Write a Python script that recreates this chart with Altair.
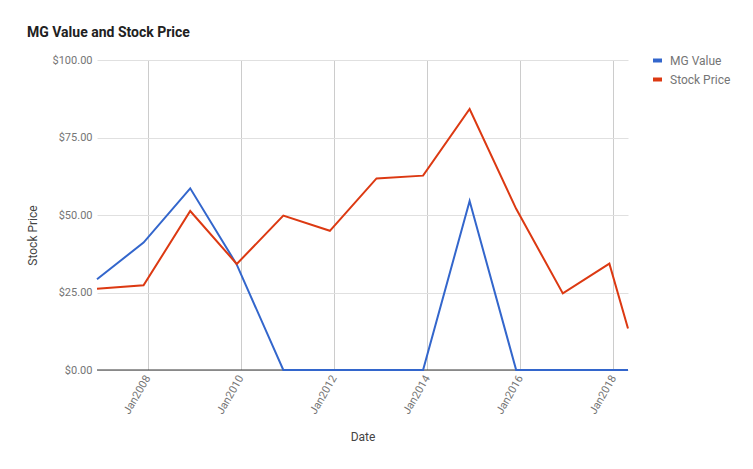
import altair as alt
import pandas as pd

dates = [
    "2006-11-30", "2007-11-30", "2008-11-30", "2009-11-30", "2010-11-30",
    "2011-11-30", "2012-11-30", "2013-11-30", "2014-11-30", "2015-11-30",
    "2016-11-30", "2017-11-30", "2018-04-25",
]
mg_value = [29.3, 41.1, 58.6, 34.0, 0, 0, 0, 0, 54.5, 0, 0, 0, 0]
stock_price = [26.2, 27.3, 51.3, 34.2, 49.8, 44.9, 61.8, 62.7, 84.2, 52.0, 24.7, 34.3, 13.4]
series = ["MG Value", "Stock Price"]
colors = ["#3366cc", "#dc3912"]
y_ticks = [0, 25, 50, 75, 100]
x_tick_years = [2008, 2010, 2012, 2014, 2016, 2018]

rows = []
for d, v in zip(dates, mg_value):
    rows.append({"Date": d, "Series": series[0], "Value": v})
for d, v in zip(dates, stock_price):
    rows.append({"Date": d, "Series": series[1], "Value": v})
df = pd.DataFrame(rows)

FONT = "Roboto"
GREY = "#757575"

x_enc = alt.X(
    "Date:T",
    scale=alt.Scale(type="utc", domain=[dates[0], dates[-1]], nice=False),
    axis=alt.Axis(
        values=[alt.DateTime(year=y, month=1, date=1, utc=True) for y in x_tick_years],
        format="%b%Y",
        labelAngle=-60,
        labelAlign="right",
        labelBaseline="middle",
        labelPadding=6,
        labelColor=GREY,
        labelFont=FONT,
        labelFontSize=11,
        ticks=False,
        domain=False,
        grid=True,
        gridColor="#cccccc",
        title="Date",
        titleFont=FONT,
        titleFontSize=12,
        titleFontWeight="normal",
        titleColor="#444444",
        titleX=265.5,
        titleY=66,
        titleBaseline="middle",
    ),
)

y_enc = alt.Y(
    "Value:Q",
    scale=alt.Scale(domain=[0, 100], nice=False),
    axis=alt.Axis(
        values=y_ticks,
        format="$,.2f",
        labelColor=GREY,
        labelFont=FONT,
        labelFontSize=11,
        labelPadding=5,
        ticks=False,
        domain=False,
        grid=True,
        gridColor="#e0e0e0",
        title="Stock Price",
        titleFont=FONT,
        titleFontSize=12,
        titleFontWeight="normal",
        titleColor="#444444",
        titleAngle=270,
        titleX=-65,
        titleY=175,
        titleBaseline="middle",
    ),
)

zero = alt.Chart(pd.DataFrame({"z": [0]})).mark_rule(color="#333333", strokeWidth=1).encode(
    y=alt.Y("z:Q", scale=alt.Scale(domain=[0, 100], nice=False))
)

lines = alt.Chart(df).mark_line(strokeWidth=2).encode(
    x=x_enc,
    y=y_enc,
    color=alt.Color(
        "Series:N",
        scale=alt.Scale(domain=series, range=colors),
        legend=alt.Legend(
            title=None,
            orient="none",
            legendX=554,
            legendY=-6,
            symbolType="stroke",
            symbolStrokeWidth=4,
            symbolSize=81,
            labelFont=FONT,
            labelFontSize=12,
            labelColor=GREY,
            labelOffset=6,
            rowPadding=2,
        ),
    ),
    order=alt.Order("Date:T"),
)

chart = alt.layer(zero, lines).properties(
    width=531,
    height=310,
    autosize=alt.AutoSizeParams(type="none"),
    padding={"left": 89, "top": 52, "right": 110, "bottom": 85},
    title=alt.TitleParams(
        "MG Value and Stock Price",
        anchor="start",
        dx=1,
        offset=14,
        font=FONT,
        fontSize=14,
        fontWeight="bold",
        color="#212121",
    ),
).configure_view(stroke=None)

chart.save("out.html", embed_options={"renderer": "svg", "actions": False})
